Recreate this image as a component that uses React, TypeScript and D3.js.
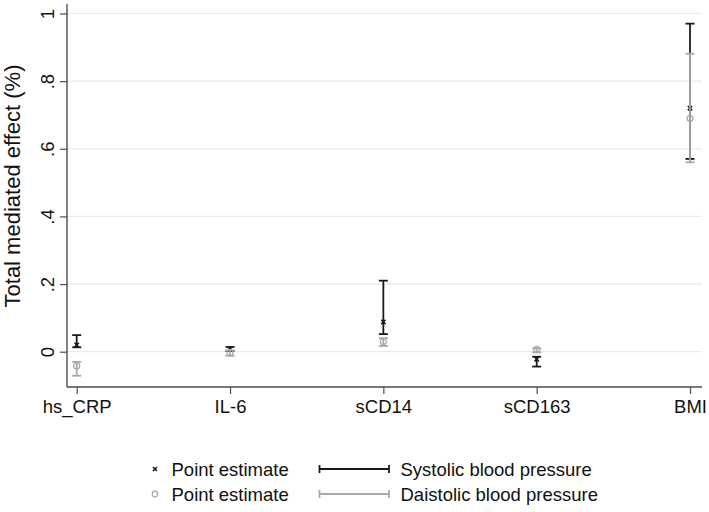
import * as d3 from "d3";
import React, { useEffect, useRef } from "react";

// Categories and estimates
const categories = ["hs_CRP", "IL-6", "sCD14", "sCD163", "BMI"];

const systolicPoint = [0.02, 0.008, 0.088, -0.022, 0.72];
const systolicLow = [0.013, 0.002, 0.052, -0.044, 0.57];
const systolicHigh = [0.049, 0.014, 0.21, -0.015, 0.97];

const diastolicPoint = [-0.042, -0.003, 0.03, 0.007, 0.69];
const diastolicLow = [-0.071, -0.012, 0.017, -0.002, 0.56];
const diastolicHigh = [-0.03, 0.004, 0.04, 0.01, 0.881];

const yTicks = [0, 0.2, 0.4, 0.6, 0.8, 1];
const yTickLabels = ["0", ".2", ".4", ".6", ".8", "1"];

const legendLabels = [
  ["Point estimate", "Systolic blood pressure"],
  ["Point estimate", "Daistolic blood pressure"],
];

const App: React.FC = () => {
  const svgRef = useRef<SVGSVGElement>(null);

  useEffect(() => {
    if (!svgRef.current) return;
    const width = 709;
    const height = 512;
    const font = "'Liberation Sans', Arial, Helvetica, sans-serif";
    const black = "#1a1a1a";
    const gray = "#a8a8a8";
    const axisColor = "#4d4d4d";

    const svg = d3.select(svgRef.current);
    svg.selectAll("*").remove();
    svg.attr("width", width).attr("height", height);

    const plot = { left: 67, right: 702, top: 4, bottom: 387 };

    const x = d3.scaleLinear().domain([1, 5]).range([76.7, 690]);
    const y = d3.scaleLinear().domain([0, 1]).range([351.7, 13.5]);

    // Grid lines
    svg
      .append("g")
      .selectAll("line")
      .data(yTicks)
      .join("line")
      .attr("x1", plot.left)
      .attr("x2", plot.right)
      .attr("y1", (d) => y(d))
      .attr("y2", (d) => y(d))
      .attr("stroke", "#eaeaea")
      .attr("stroke-width", 1.2);

    // Y axis
    const yAxis = d3
      .axisLeft(y)
      .tickValues(yTicks)
      .tickSize(7)
      .tickFormat((_, i) => yTickLabels[i]);
    const yg = svg
      .append("g")
      .attr("transform", `translate(${plot.left},0)`)
      .call(yAxis);
    yg.select(".domain").remove();
    yg.selectAll("line").attr("stroke", axisColor).attr("stroke-width", 1.2);
    yg.selectAll("text")
      .attr("fill", "#111")
      .style("font-family", font)
      .style("font-size", "18.5px")
      .attr("text-anchor", "middle")
      .attr("x", null)
      .attr("dy", null)
      .attr("transform", "translate(-13,0) rotate(-90)");
    svg
      .append("line")
      .attr("x1", plot.left)
      .attr("x2", plot.left)
      .attr("y1", plot.top)
      .attr("y2", plot.bottom)
      .attr("stroke", axisColor)
      .attr("stroke-width", 1.4);

    // X axis
    const xAxis = d3
      .axisBottom(x)
      .tickValues([1, 2, 3, 4, 5])
      .tickSize(7)
      .tickPadding(6)
      .tickFormat((_, i) => categories[i]);
    const xg = svg
      .append("g")
      .attr("transform", `translate(0,${plot.bottom})`)
      .call(xAxis);
    xg.select(".domain").remove();
    xg.selectAll("line").attr("stroke", axisColor).attr("stroke-width", 1.2);
    xg.selectAll("text")
      .attr("fill", "#111")
      .style("font-family", font)
      .style("font-size", "18.5px");
    svg
      .append("line")
      .attr("x1", plot.left)
      .attr("x2", plot.right)
      .attr("y1", plot.bottom)
      .attr("y2", plot.bottom)
      .attr("stroke", axisColor)
      .attr("stroke-width", 1.4);

    // Y title
    svg
      .append("text")
      .attr("transform", "translate(20,186) rotate(-90)")
      .attr("text-anchor", "middle")
      .attr("fill", "#111")
      .style("font-family", font)
      .style("font-size", "22px")
      .text("Total mediated effect (%)");

    const capHalf = 4.5;
    const drawBars = (
      lo: number[],
      hi: number[],
      color: string,
      width: number,
    ) => {
      const g = svg.append("g").attr("stroke", color).attr("stroke-width", width);
      categories.forEach((_, i) => {
        const cx = x(i + 1);
        g.append("line")
          .attr("x1", cx)
          .attr("x2", cx)
          .attr("y1", y(lo[i]))
          .attr("y2", y(hi[i]));
        [lo[i], hi[i]].forEach((v) => {
          g.append("line")
            .attr("x1", cx - capHalf)
            .attr("x2", cx + capHalf)
            .attr("y1", y(v))
            .attr("y2", y(v));
        });
      });
    };

    const cross = (g: any, cx: number, cy: number, color: string, s: number) => {
      g.append("path")
        .attr("d", `M${cx - s},${cy - s}L${cx + s},${cy + s}M${cx - s},${cy + s}L${cx + s},${cy - s}`)
        .attr("stroke", color)
        .attr("stroke-width", 1.6)
        .attr("fill", "none");
    };
    const ring = (g: any, cx: number, cy: number, color: string, r: number) => {
      g.append("circle")
        .attr("cx", cx)
        .attr("cy", cy)
        .attr("r", r)
        .attr("stroke", color)
        .attr("stroke-width", 1.2)
        .attr("fill", "none");
    };

    drawBars(systolicLow, systolicHigh, black, 1.8);
    const pts = svg.append("g");
    systolicPoint.forEach((v, i) => cross(pts, x(i + 1), y(v), black, 2.2));
    drawBars(diastolicLow, diastolicHigh, gray, 1.8);
    const pts2 = svg.append("g");
    diastolicPoint.forEach((v, i) => ring(pts2, x(i + 1), y(v), gray, 3));

    // Legend
    const legend = svg.append("g");
    const rows = [469, 494];
    const colors = [black, gray];
    rows.forEach((ry, r) => {
      if (r === 0) cross(legend, 155, ry, black, 2);
      else ring(legend, 155, ry, gray, 2.8);
      legend
        .append("line")
        .attr("x1", 319.5)
        .attr("x2", 389)
        .attr("y1", ry)
        .attr("y2", ry)
        .attr("stroke", colors[r])
        .attr("stroke-width", 1.8);
      [319.5, 389].forEach((cx) =>
        legend
          .append("line")
          .attr("x1", cx)
          .attr("x2", cx)
          .attr("y1", ry - 4)
          .attr("y2", ry + 4)
          .attr("stroke", colors[r])
          .attr("stroke-width", 1.8),
      );
      legendLabels[r].forEach((t, j) =>
        legend
          .append("text")
          .attr("x", j === 0 ? 171.5 : 400.5)
          .attr("y", ry)
          .attr("dy", "0.36em")
          .attr("fill", "#111")
          .style("font-family", font)
          .style("font-size", "18.5px")
          .text(t),
      );
    });
  }, []);

  return (
    <svg
      ref={svgRef}
      style={{ position: "absolute", left: 0, top: 0, background: "#fff" }}
    />
  );
};

export default App;
